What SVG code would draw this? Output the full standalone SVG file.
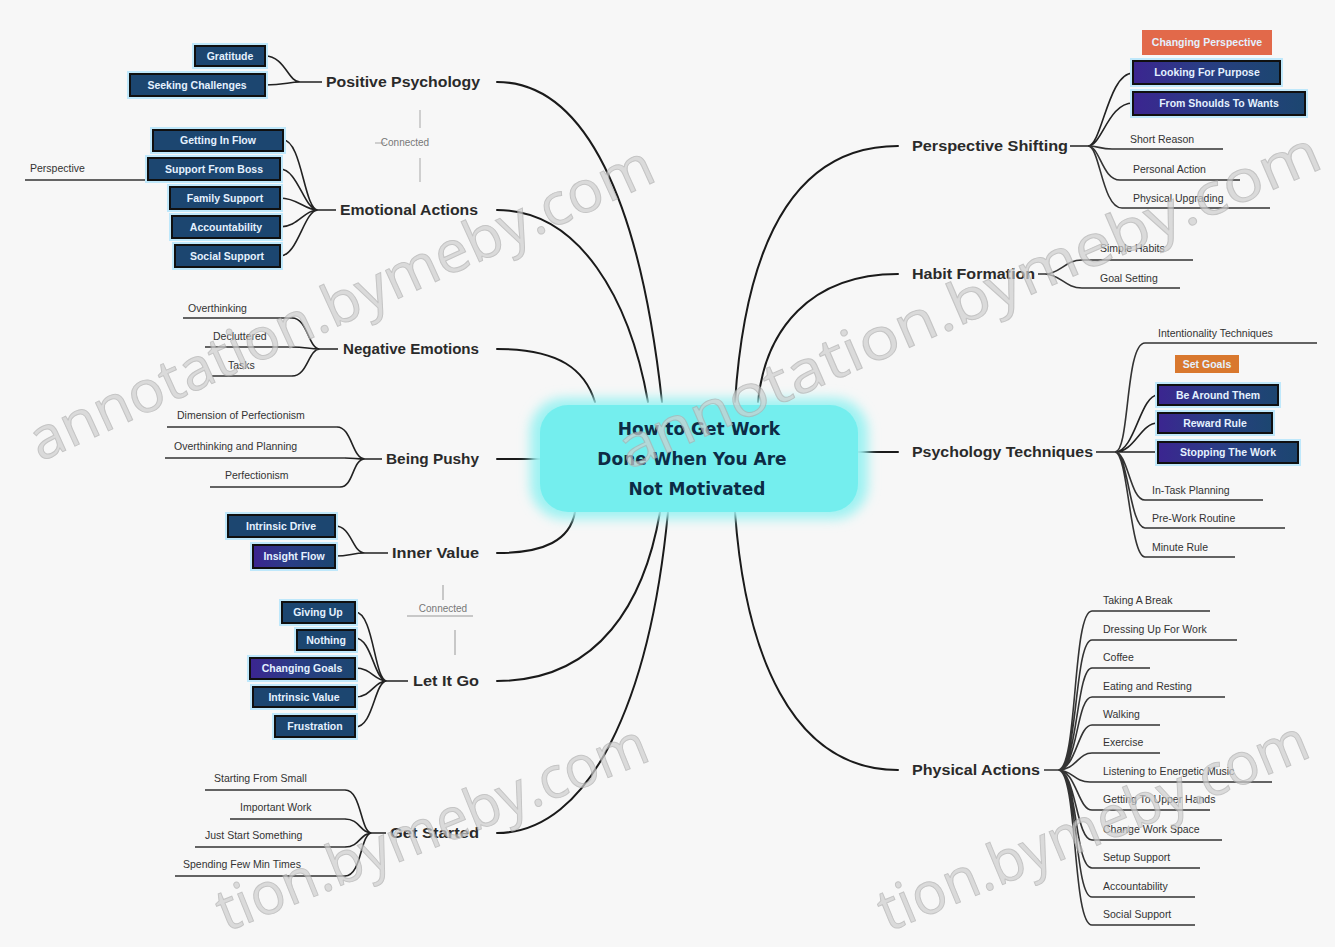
<svg xmlns="http://www.w3.org/2000/svg" width="1335" height="947" viewBox="0 0 1335 947">
<defs>
<style>
.c{fill:none;stroke:#1a1a1a;stroke-width:2;stroke-linecap:round}
.f{fill:none;stroke:#222;stroke-width:1.6}
.u{fill:none;stroke:#333;stroke-width:1.6}
.ml{font-family:"Liberation Sans",Arial,sans-serif;font-weight:bold;font-size:14px;fill:#2a2a2a}
.t{font-family:"Liberation Sans",Arial,sans-serif;font-size:10.5px;fill:#333}
.hl{fill:#bfe8fb}
.bx{fill:#1c4670;stroke:#101010;stroke-width:2}
.bp{fill:url(#pg);stroke:#101010;stroke-width:2}
.bt{font-family:"Liberation Sans",Arial,sans-serif;font-weight:bold;font-size:10.5px;fill:#e4f1ff;text-anchor:middle}
.gl{font-family:"Liberation Sans",Arial,sans-serif;font-size:10px;fill:#777;text-anchor:middle}
.wm{font-family:"Open Sans","DejaVu Sans",sans-serif;font-size:58px;fill:#cfcfcf;stroke:#b0b0b0;stroke-width:1;opacity:0.7}
</style>
<linearGradient id="pg" x1="0" y1="0" x2="1" y2="0">
<stop offset="0" stop-color="#3b2590"/><stop offset="0.45" stop-color="#2a3d85"/><stop offset="1" stop-color="#1c4670"/>
</linearGradient>
<filter id="blur" x="-20%" y="-40%" width="140%" height="180%"><feGaussianBlur stdDeviation="6"/></filter>
</defs>
<rect width="1335" height="947" fill="#f7f7f7"/>

<g id="connectors">
<path class="c" d="M497 82 C585 82 640 200 662 402"/>
<path class="c" d="M497 210 C580 210 630 300 648 402"/>
<path class="c" d="M497 349 C560 349 585 370 595 402"/>
<path class="c" d="M497 459 L540 459"/>
<path class="c" d="M497 553 C545 553 570 540 575 512"/>
<path class="c" d="M497 681 C600 681 645 600 660 512"/>
<path class="c" d="M497 833 C590 833 650 700 668 512"/>
<path class="c" d="M898 146 C790 146 745 250 735 402"/>
<path class="c" d="M898 274 C810 274 765 330 758 402"/>
<path class="c" d="M898 452 L858 452"/>
<path class="c" d="M898 770 C790 770 745 650 735 512"/>
<path class="f" d="M300 82 L322 82 M265 56 C285 56 288 82 300 82 M265 85 C285 85 288 82 300 82"/>
<path class="f" d="M318 210 L336 210 M283 140 C302 140 304 210 318 210 M280 169 C298 169 304 210 318 210 M280 198 C298 198 304 210 318 210 M280 227 C298 227 304 210 318 210 M280 256 C298 256 304 210 318 210"/>
<path class="u" d="M148 180 L25 180"/>
<path class="f" d="M320 349 L338 349 M292 318 C308 318 308 349 320 349 M292 347 C306 347 308 349 320 349 M292 376 C308 376 308 349 320 349"/>
<path class="u" d="M183 318 L292 318 M205 347 L292 347 M212 376 L292 376"/>
<path class="f" d="M365 459 L382 459 M337 427 C352 427 352 459 365 459 M345 458 C355 458 355 459 365 459 M340 487 C354 487 352 459 365 459"/>
<path class="u" d="M167 427 L337 427 M165 458 L345 458 M210 487 L340 487"/>
<path class="f" d="M365 553 L388 553 M335 526 C352 526 352 553 365 553 M335 556 C350 556 352 553 365 553"/>
<path class="f" d="M387 681 L408 681 M355 612 C374 612 374 681 387 681 M355 638 C372 638 374 681 387 681 M355 668 C372 668 374 681 387 681 M355 697 C372 697 374 681 387 681 M355 727 C374 727 374 681 387 681"/>
<path class="f" d="M372 833 L386 833 M345 790 C362 790 360 833 372 833 M345 819 C360 819 360 833 372 833 M345 847 C360 847 360 833 372 833 M345 876 C362 876 360 833 372 833"/>
<path class="u" d="M205 790 L345 790 M230 819 L345 819 M195 847 L345 847 M175 876 L345 876"/>
<path class="f" d="M1070 146 L1088 146 M1088 146 C1102 146 1108 73 1133 73 M1088 146 C1102 146 1108 103 1133 103"/>
<path class="u" d="M1088 146 C1098 146 1100 149 1112 149 L1223 149 M1088 146 C1100 146 1102 180 1120 180 L1240 180 M1088 146 C1100 146 1102 208 1122 208 L1270 208"/>
<path class="u" d="M1038 274 L1045 274 M1045 274 C1060 274 1065 260 1082 260 L1193 260 M1045 274 C1060 274 1065 288 1082 288 L1180 288"/>
<path class="f" d="M1096 452 L1115 452 M1115 452 C1135 452 1140 395 1158 395 M1115 452 C1135 452 1140 423 1158 423 M1115 452 L1158 452"/>
<path class="u" d="M1115 452 C1130 452 1125 343 1145 343 L1317 343 M1115 452 C1128 452 1130 500 1145 500 L1263 500 M1115 452 C1128 452 1130 528 1145 528 L1285 528 M1115 452 C1128 452 1130 557 1145 557 L1235 557"/>
<path class="u" d="M1044 770 L1058 770 M1058 770 C1078 770 1072 611 1092 611 L1210 611 M1058 770 C1078 770 1074 640 1092 640 L1237 640 M1058 770 C1078 770 1076 668 1092 668 L1150 668 M1058 770 C1078 770 1076 697 1092 697 L1225 697 M1058 770 C1076 770 1078 725 1092 725 L1160 725 M1058 770 C1076 770 1078 753 1092 753 L1160 753 M1058 770 C1072 770 1074 782 1090 782 L1272 782 M1058 770 C1076 770 1078 810 1092 810 L1210 810 M1058 770 C1076 770 1076 840 1092 840 L1222 840 M1058 770 C1078 770 1074 868 1092 868 L1200 868 M1058 770 C1078 770 1074 897 1092 897 L1195 897 M1058 770 C1078 770 1072 925 1092 925 L1195 925"/>
<path d="M420 110 L420 128 M420 158 L420 182 M385 143 L375 143" stroke="#cfcfcf" stroke-width="2" fill="none"/>
<path d="M407 616 L473 616 M455 630 L455 655 M443 585 L443 600" stroke="#c8c8c8" stroke-width="2" fill="none"/>
</g>

<g id="center">
<rect x="530" y="398" width="338" height="121" rx="34" fill="#9ef2f2" filter="url(#blur)"/>
<rect x="540" y="405" width="318" height="107" rx="28" fill="#74eeee"/>
<text x="699" y="435" font-family="DejaVu Sans,sans-serif" font-weight="bold" font-size="17" fill="#0d2b45" text-anchor="middle">How to Get Work</text>
<text x="692" y="465" font-family="DejaVu Sans,sans-serif" font-weight="bold" font-size="17" fill="#0d2b45" text-anchor="middle">Done When You Are</text>
<text x="697" y="495" font-family="DejaVu Sans,sans-serif" font-weight="bold" font-size="17" fill="#0d2b45" text-anchor="middle">Not Motivated</text>
</g>

<g id="positive-psychology">
<text class="ml" x="326" y="87" textLength="154" lengthAdjust="spacingAndGlyphs">Positive Psychology</text>
<rect class="hl" x="192" y="43" width="76" height="26"/><rect class="bx" x="195" y="46" width="70" height="20"/><text class="bt" x="230" y="60">Gratitude</text>
<rect class="hl" x="127" y="71" width="141" height="28"/><rect class="bx" x="130" y="74" width="135" height="22"/><text class="bt" x="197" y="89">Seeking Challenges</text>
<text class="gl" x="405" y="146">Connected</text>
</g>

<g id="emotional-actions">
<text class="ml" x="340" y="215" textLength="138" lengthAdjust="spacingAndGlyphs">Emotional Actions</text>
<rect class="hl" x="150" y="127" width="136" height="27"/><rect class="bx" x="153" y="130" width="130" height="21"/><text class="bt" x="218" y="144">Getting In Flow</text>
<rect class="hl" x="145" y="155" width="138" height="28"/><rect class="bx" x="148" y="158" width="132" height="22"/><text class="bt" x="214" y="173">Support From Boss</text>
<rect class="hl" x="167" y="184" width="116" height="28"/><rect class="bx" x="170" y="187" width="110" height="22"/><text class="bt" x="225" y="202">Family Support</text>
<rect class="hl" x="169" y="213" width="114" height="28"/><rect class="bx" x="172" y="216" width="108" height="22"/><text class="bt" x="226" y="231">Accountability</text>
<rect class="hl" x="172" y="242" width="111" height="28"/><rect class="bx" x="175" y="245" width="105" height="22"/><text class="bt" x="227" y="260">Social Support</text>
<text class="t" x="30" y="172">Perspective</text>
</g>

<g id="negative-emotions">
<text class="ml" x="343" y="354" textLength="136" lengthAdjust="spacingAndGlyphs">Negative Emotions</text>
<text class="t" x="188" y="312">Overthinking</text>
<text class="t" x="213" y="340">Decluttered</text>
<text class="t" x="228" y="369">Tasks</text>
</g>

<g id="being-pushy">
<text class="ml" x="386" y="464" textLength="93" lengthAdjust="spacingAndGlyphs">Being Pushy</text>
<text class="t" x="177" y="419">Dimension of Perfectionism</text>
<text class="t" x="174" y="450">Overthinking and Planning</text>
<text class="t" x="225" y="479">Perfectionism</text>
</g>

<g id="inner-value">
<text class="ml" x="392" y="558" textLength="87" lengthAdjust="spacingAndGlyphs">Inner Value</text>
<rect class="hl" x="225" y="512" width="113" height="28"/><rect class="bx" x="228" y="515" width="107" height="22"/><text class="bt" x="281" y="530">Intrinsic Drive</text>
<rect class="hl" x="250" y="542" width="88" height="29"/><rect class="bp" x="253" y="545" width="82" height="23"/><text class="bt" x="294" y="560">Insight Flow</text>
</g>

<g id="let-it-go">
<text class="ml" x="413" y="686" textLength="66" lengthAdjust="spacingAndGlyphs">Let It Go</text>
<text class="gl" x="443" y="612">Connected</text>
<rect class="hl" x="279" y="599" width="79" height="27"/><rect class="bx" x="282" y="602" width="73" height="21"/><text class="bt" x="318" y="616">Giving Up</text>
<rect class="hl" x="294" y="627" width="64" height="26"/><rect class="bx" x="297" y="630" width="58" height="20"/><text class="bt" x="326" y="644">Nothing</text>
<rect class="hl" x="247" y="655" width="111" height="27"/><rect class="bp" x="250" y="658" width="105" height="21"/><text class="bt" x="302" y="672">Changing Goals</text>
<rect class="hl" x="250" y="684" width="108" height="26"/><rect class="bx" x="253" y="687" width="102" height="20"/><text class="bt" x="304" y="701">Intrinsic Value</text>
<rect class="hl" x="272" y="713" width="86" height="27"/><rect class="bx" x="275" y="716" width="80" height="21"/><text class="bt" x="315" y="730">Frustration</text>
</g>

<g id="get-started">
<text class="ml" x="390" y="838" textLength="89" lengthAdjust="spacingAndGlyphs">Get Started</text>
<text class="t" x="214" y="782">Starting From Small</text>
<text class="t" x="240" y="811">Important Work</text>
<text class="t" x="205" y="839">Just Start Something</text>
<text class="t" x="183" y="868">Spending Few Min Times</text>
</g>

<g id="perspective-shifting">
<text class="ml" x="912" y="151" textLength="156" lengthAdjust="spacingAndGlyphs">Perspective Shifting</text>
<rect x="1142" y="30" width="130" height="25" fill="#e2694a"/><text class="bt" x="1207" y="46" fill="#ffd9c8">Changing Perspective</text>
<rect class="hl" x="1130" y="58" width="153" height="29"/><rect class="bp" x="1133" y="61" width="147" height="23"/><text class="bt" x="1207" y="76">Looking For Purpose</text>
<rect class="hl" x="1130" y="89" width="178" height="29"/><rect class="bp" x="1133" y="92" width="172" height="23"/><text class="bt" x="1219" y="107">From Shoulds To Wants</text>
<text class="t" x="1130" y="143">Short Reason</text>
<text class="t" x="1133" y="173">Personal Action</text>
<text class="t" x="1133" y="202">Physical Upgrading</text>
</g>

<g id="habit-formation">
<text class="ml" x="912" y="279" textLength="123" lengthAdjust="spacingAndGlyphs">Habit Formation</text>
<text class="t" x="1100" y="252">Simple Habits</text>
<text class="t" x="1100" y="282">Goal Setting</text>
</g>

<g id="psychology-techniques">
<text class="ml" x="912" y="457" textLength="181" lengthAdjust="spacingAndGlyphs">Psychology Techniques</text>
<text class="t" x="1158" y="337">Intentionality Techniques</text>
<rect x="1175" y="355" width="64" height="18" fill="#d9782e"/><text class="bt" x="1207" y="368" fill="#ffe0c0">Set Goals</text>
<rect class="hl" x="1155" y="382" width="126" height="26"/><rect class="bp" x="1158" y="385" width="120" height="20"/><text class="bt" x="1218" y="399">Be Around Them</text>
<rect class="hl" x="1155" y="410" width="120" height="26"/><rect class="bp" x="1158" y="413" width="114" height="20"/><text class="bt" x="1215" y="427">Reward Rule</text>
<rect class="hl" x="1155" y="439" width="146" height="27"/><rect class="bp" x="1158" y="442" width="140" height="21"/><text class="bt" x="1228" y="456">Stopping The Work</text>
<text class="t" x="1152" y="494">In-Task Planning</text>
<text class="t" x="1152" y="522">Pre-Work Routine</text>
<text class="t" x="1152" y="551">Minute Rule</text>
</g>

<g id="physical-actions">
<text class="ml" x="912" y="775" textLength="128" lengthAdjust="spacingAndGlyphs">Physical Actions</text>
<text class="t" x="1103" y="604">Taking A Break</text>
<text class="t" x="1103" y="633">Dressing Up For Work</text>
<text class="t" x="1103" y="661">Coffee</text>
<text class="t" x="1103" y="690">Eating and Resting</text>
<text class="t" x="1103" y="718">Walking</text>
<text class="t" x="1103" y="746">Exercise</text>
<text class="t" x="1103" y="775">Listening to Energetic Music</text>
<text class="t" x="1103" y="803">Getting To Upper Hands</text>
<text class="t" x="1103" y="833">Change Work Space</text>
<text class="t" x="1103" y="861">Setup Support</text>
<text class="t" x="1103" y="890">Accountability</text>
<text class="t" x="1103" y="918">Social Support</text>
</g>

<g id="watermarks">
<text class="wm" transform="translate(40 462) rotate(-24.5)" textLength="680" lengthAdjust="spacingAndGlyphs">annotation.bymeby.com</text>
<text class="wm" transform="translate(628 470) rotate(-23.5)" textLength="760" lengthAdjust="spacingAndGlyphs">annotation.bymeby.com</text>
<text class="wm" transform="translate(226 932) rotate(-22)" textLength="460" lengthAdjust="spacingAndGlyphs">tion.bymeby.com</text>
<text class="wm" transform="translate(888 932) rotate(-22.5)" textLength="460" lengthAdjust="spacingAndGlyphs">tion.bymeby.com</text>
</g>
</svg>
